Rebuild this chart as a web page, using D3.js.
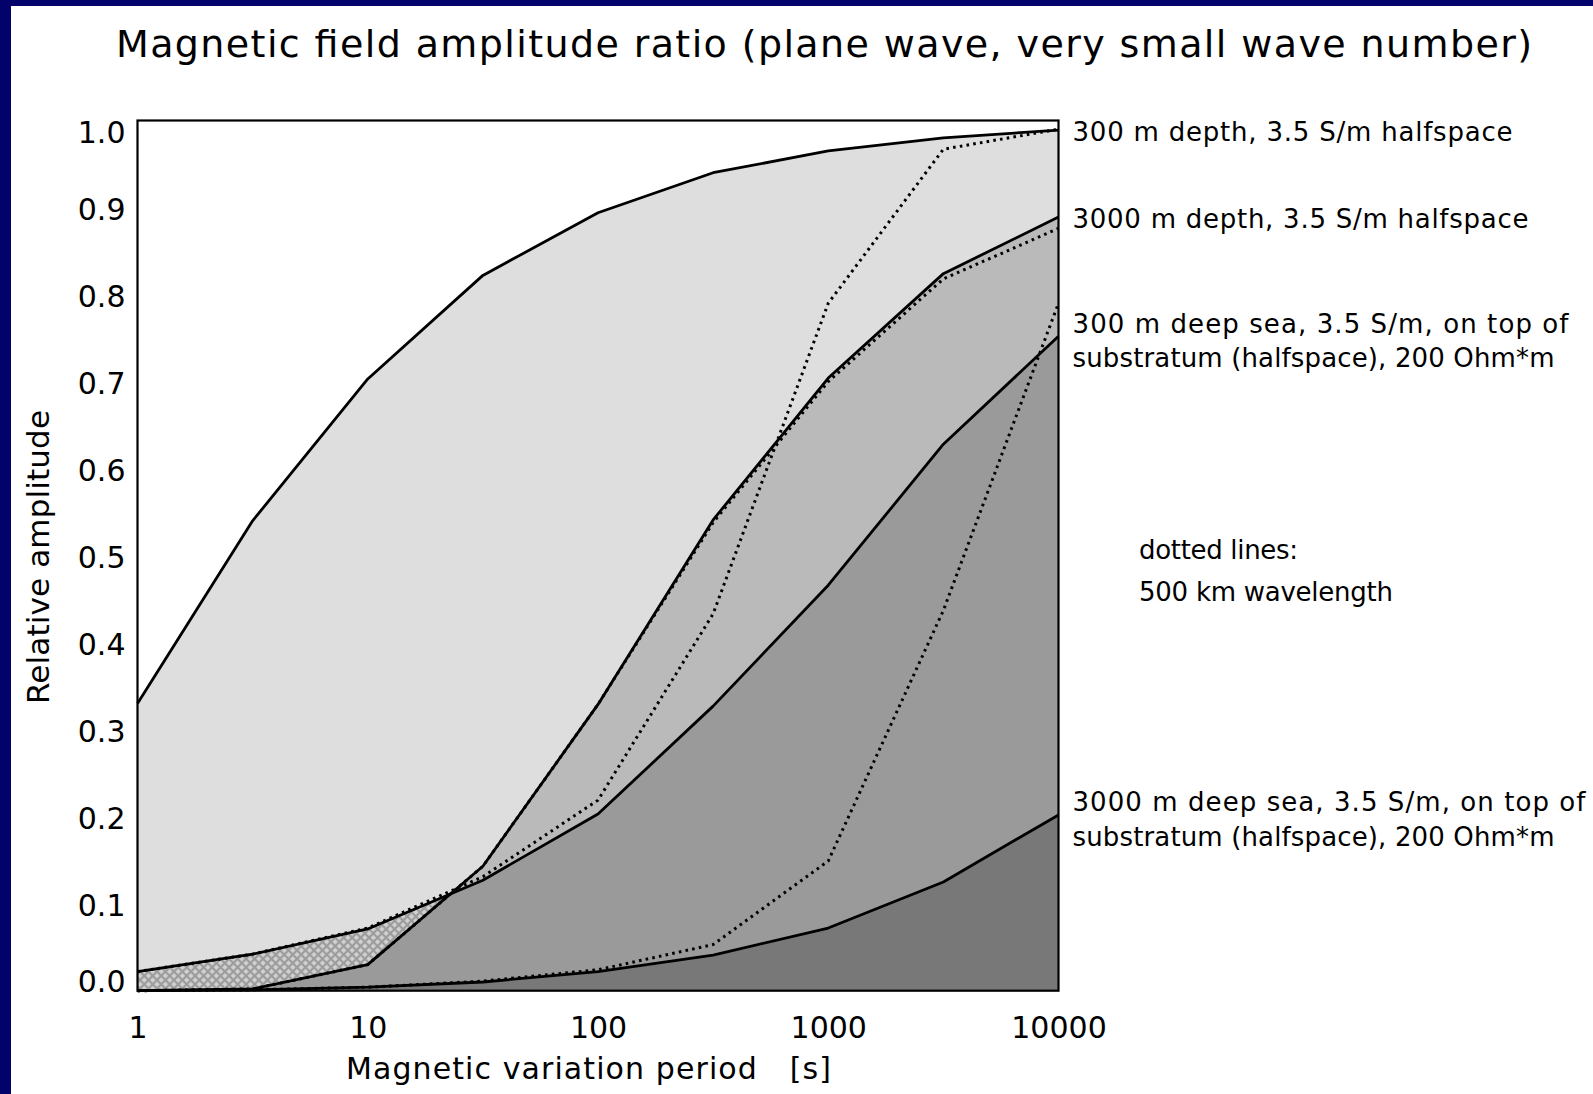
<!DOCTYPE html>
<html>
<head>
<meta charset="utf-8">
<script src="https://cdn.jsdelivr.net/npm/d3@7"></script>
<style>
  html, body { margin: 0; padding: 0; background: #fff; }
  svg { display: block; }
  text { font-family: 'DejaVu Sans', sans-serif; fill: #000; }
</style>
</head>
<body>
<script>
// periods [s], half-decade steps
const periods = [1, 3.162, 10, 31.62, 100, 316.2, 1000, 3162, 10000];

// plane wave, very small wave number (solid lines)
const depth300 = [0.33, 0.54, 0.703, 0.822, 0.894, 0.94, 0.965, 0.98, 0.989];
const depth3000 = [0.0, 0.002, 0.03, 0.143, 0.329, 0.541, 0.704, 0.824, 0.889];
const sea300 = [0.022, 0.042, 0.071, 0.127, 0.203, 0.327, 0.466, 0.628, 0.752];
const sea3000 = [0.0, 0.001, 0.004, 0.010, 0.022, 0.041, 0.072, 0.125, 0.202];

// 500 km wavelength (dotted lines)
const depth3000Wl = [0.0, 0.002, 0.03, 0.143, 0.329, 0.538, 0.70, 0.818, 0.876];
const sea300Wl = [0.022, 0.042, 0.072, 0.131, 0.219, 0.433, 0.79, 0.967, 0.99];
const sea3000Wl = [0.0, 0.001, 0.004, 0.011, 0.024, 0.053, 0.149, 0.437, 0.79];

const xTicks = [1, 10, 100, 1000, 10000];
const yTicks = [0, 0.1, 0.2, 0.3, 0.4, 0.5, 0.6, 0.7, 0.8, 0.9, 1.0];

const TITLE = 'Magnetic field amplitude ratio (plane wave, very small wave number)';
const X_TITLE = 'Magnetic variation period   [s]';
const Y_TITLE = 'Relative amplitude';
const LABEL_300 = ['300 m depth, 3.5 S/m halfspace'];
const LABEL_3000 = ['3000 m depth, 3.5 S/m halfspace'];
const LABEL_SEA300 = ['300 m deep sea, 3.5 S/m, on top of', 'substratum (halfspace), 200 Ohm*m'];
const LABEL_SEA3000 = ['3000 m deep sea, 3.5 S/m, on top of', 'substratum (halfspace), 200 Ohm*m'];
const NOTE = ['dotted lines:', '500 km wavelength'];


function plot(svg)
{
    const box = {left: 137.5, top: 120.5, right: 1058.5, bottom: 990.7};

    const scX = d3.scaleLog()
        .domain([1, 10000])
        .range([box.left, box.right]);
    const scY = d3.scaleLinear()
        .domain([0, 1])
        .range([box.bottom, box.top]);

    const areaMaker = d3.area()
        .x((d, i) => scX(periods[i]))
        .y0(scY(0))
        .y1(d => scY(d));
    const lineMaker = d3.line()
        .x((d, i) => scX(periods[i]))
        .y(d => scY(d));

    // cross-hatch for the region under the 300 m sea curve but above 3000 m depth
    const defs = svg.append('defs');
    const pat = defs.append('pattern')
        .attr('id', 'hatch')
        .attr('patternUnits', 'userSpaceOnUse')
        .attr('width', 6)
        .attr('height', 6)
        .attr('patternTransform', 'rotate(45)');
    pat.append('rect').attr('width', 6).attr('height', 6).attr('fill', '#9c9c9c');
    pat.append('rect')
        .attr('x', 1.1).attr('y', 1.1)
        .attr('width', 3.8).attr('height', 3.8)
        .attr('fill', '#d2d2d2');
    defs.append('clipPath')
        .attr('id', 'under3000')
        .append('path')
        .attr('d', areaMaker(depth3000));

    const fills = svg.append('g');
    fills.append('path').attr('d', areaMaker(depth300)).attr('fill', '#dedede');
    fills.append('path').attr('d', areaMaker(sea300)).attr('fill', 'url(#hatch)');
    fills.append('path').attr('d', areaMaker(depth3000)).attr('fill', '#bababa');
    fills.append('path')
        .attr('d', areaMaker(sea300))
        .attr('fill', '#9a9a9a')
        .attr('clip-path', 'url(#under3000)');
    fills.append('path').attr('d', areaMaker(sea3000)).attr('fill', '#787878');

    const lines = svg.append('g')
        .attr('fill', 'none')
        .attr('stroke', '#000')
        .attr('stroke-linejoin', 'round');
    [depth300, depth3000, sea300, sea3000].forEach(s => {
        lines.append('path')
            .attr('d', lineMaker(s))
            .attr('stroke-width', 2.8);
    });
    [depth3000Wl, sea300Wl, sea3000Wl].forEach(s => {
        lines.append('path')
            .attr('d', lineMaker(s))
            .attr('stroke-width', 3)
            .attr('stroke-dasharray', '2.6 4.2');
    });

    // axes: labels only, no tick marks
    const gx = svg.append('g')
        .attr('transform', `translate(0, ${box.bottom})`)
        .call(d3.axisBottom(scX)
            .tickValues(xTicks)
            .tickFormat(d3.format('d'))
            .tickSize(0)
            .tickPadding(26));
    gx.select('.domain').remove();
    gx.attr('font-size', 30).attr('font-family', null);

    const gy = svg.append('g')
        .attr('transform', `translate(${box.left}, 0)`)
        .call(d3.axisLeft(scY)
            .tickValues(yTicks)
            .tickFormat(d3.format('.1f'))
            .tickSize(0)
            .tickPadding(12));
    gy.select('.domain').remove();
    gy.attr('font-size', 30).attr('font-family', null);
    // end labels are pulled inside the frame
    gy.selectAll('.tick text')
        .attr('dy', d => d === 0 ? '0.04em' : d === 1 ? '0.74em' : '0.41em');

    svg.append('rect')
        .attr('x', box.left)
        .attr('y', box.top)
        .attr('width', box.right - box.left)
        .attr('height', box.bottom - box.top)
        .attr('fill', 'none')
        .attr('stroke', '#000')
        .attr('stroke-width', 2.2);

    // titles
    svg.append('text')
        .attr('x', 116).attr('y', 57)
        .attr('font-size', 38)
        .attr('textLength', 1416)
        .attr('lengthAdjust', 'spacing')
        .text(TITLE);
    svg.append('text')
        .attr('x', 346).attr('y', 1079)
        .attr('font-size', 30)
        .style('white-space', 'pre')
        .attr('textLength', 485)
        .attr('lengthAdjust', 'spacing')
        .text(X_TITLE);
    svg.append('text')
        .attr('transform', `translate(49, 557) rotate(-90)`)
        .attr('text-anchor', 'middle')
        .attr('font-size', 31)
        .attr('textLength', 294)
        .attr('lengthAdjust', 'spacing')
        .text(Y_TITLE);

    // curve labels, placed at the right-hand end value of each curve
    const labelX = box.right + 14;
    function curveLabel(lines, value, widths)
    {
        const yc = scY(value);
        const offs = lines.length === 1 ? [0] : [-14, 20.6];
        lines.forEach((t, i) => {
            svg.append('text')
                .attr('x', labelX)
                .attr('y', yc + offs[i] + 10.5)
                .attr('font-size', 26)
                .attr('textLength', widths[i])
                .attr('lengthAdjust', 'spacing')
                .text(t);
        });
    }
    curveLabel(LABEL_300, depth300[8], [440]);
    curveLabel(LABEL_3000, depth3000[8], [456]);
    curveLabel(LABEL_SEA300, sea300[8], [496, 482]);
    curveLabel(LABEL_SEA3000, sea3000[8], [513, 482]);

    svg.append('text')
        .attr('x', 1139).attr('y', 559)
        .attr('font-size', 26)
        .attr('textLength', 159)
        .attr('lengthAdjust', 'spacing')
        .text(NOTE[0]);
    svg.append('text')
        .attr('x', 1139).attr('y', 601)
        .attr('font-size', 26)
        .attr('textLength', 254)
        .attr('lengthAdjust', 'spacing')
        .text(NOTE[1]);
}

function main()
{
    const svg = d3.select('body')
        .append('svg')
        .attr('width', 1593)
        .attr('height', 1094);

    svg.append('rect').attr('width', 1593).attr('height', 1094).attr('fill', '#fff');
    // dark blue frame at left and top
    svg.append('rect').attr('width', 11).attr('height', 1094).attr('fill', '#02026a');
    svg.append('rect').attr('width', 1593).attr('height', 6).attr('fill', '#02026a');

    plot(svg);
}

main();
</script>
</body>
</html>
